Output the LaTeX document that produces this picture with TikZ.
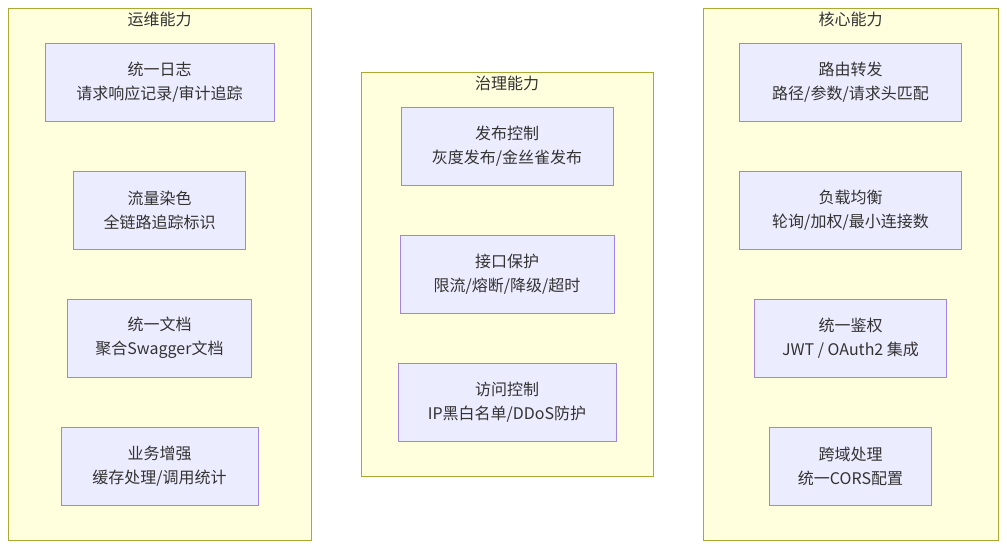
\documentclass[tikz,border=0pt]{standalone}
\usepackage{fontspec}
\setmainfont{Noto Sans CJK SC}
\usetikzlibrary{positioning}
\definecolor{clusterfill}{HTML}{FFFFDE}
\definecolor{clusterline}{HTML}{AAAA33}
\definecolor{nodefill}{HTML}{ECECFF}
\definecolor{nodeline}{HTML}{9370DB}
\definecolor{textgray}{HTML}{333333}

\begin{document}
\begin{tikzpicture}[
  x=1pt,y=-1pt,
  every node/.style={font=\fontsize{16}{24}\selectfont,text=textgray},
  cluster/.style={draw=clusterline,fill=clusterfill,line width=0.9pt,inner sep=0pt},
  title/.style={below=4.5pt,inner sep=0pt},
  feature/.style={draw=nodeline!85,fill=nodefill,line width=0.9pt,minimum height=78pt,align=center,inner sep=0pt}
]
  \useasboundingbox (0,0) rectangle (1007,548);

  % clusters
  \node[cluster,minimum width=303pt,minimum height=532pt] (ops) at (159.5,274) {};
  \node[cluster,minimum width=292pt,minimum height=404pt] (gov) at (507,274) {};
  \node[cluster,minimum width=295pt,minimum height=532pt] (core) at (850.5,274) {};
  \node[title] (opstitle) at (ops.north) {运维能力};
  \node[title] (govtitle) at (gov.north) {治理能力};
  \node[title] (coretitle) at (core.north) {核心能力};

  % ops
  \node[feature,minimum width=229pt] (log) at (159.5,82) {统一日志\\请求响应记录/审计追踪};
  \node[feature,minimum width=172pt] (dye) at (159.5,210) {流量染色\\全链路追踪标识};
  \node[feature,minimum width=184pt] (doc) at (159.5,338) {统一文档\\聚合Swagger文档};
  \node[feature,minimum width=197pt] (biz) at (159.5,466) {业务增强\\缓存处理/调用统计};

  % governance
  \node[feature,minimum width=212pt] (release) at (507,146) {发布控制\\灰度发布/金丝雀发布};
  \node[feature,minimum width=214pt] (protect) at (507,274) {接口保护\\限流/熔断/降级/超时};
  \node[feature,minimum width=218pt] (access) at (507,402) {访问控制\\IP黑白名单/DDoS防护};

  % core
  \node[feature,minimum width=222pt] (route) at (850.5,82) {路由转发\\路径/参数/请求头匹配};
  \node[feature,minimum width=222pt] (balance) at (850.5,210) {负载均衡\\轮询/加权/最小连接数};
  \node[feature,minimum width=192pt] (auth) at (850.5,338) {统一鉴权\\JWT / OAuth2 集成};
  \node[feature,minimum width=162pt] (cors) at (850.5,466) {跨域处理\\统一CORS配置};
\end{tikzpicture}
\end{document}
